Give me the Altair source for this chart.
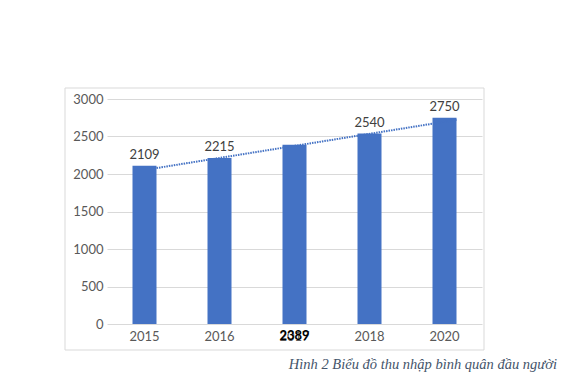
import altair as alt
import pandas as pd

years = ["2015", "2016", "2017", "2018", "2020"]
values = [2109, 2215, 2389, 2540, 2750]
index = [1, 2, 3, 4, 5]
label_at_axis = [False, False, True, False, False]
y_ticks = [0, 500, 1000, 1500, 2000, 2500, 3000]
caption = "Hình 2 Biểu đồ thu nhập bình quân đầu người"

df = pd.DataFrame({"year": years, "value": values, "i": index, "at_axis": label_at_axis})

FONT = "Lato"
BLUE = "#4472C4"

xscale = alt.Scale(domain=years, paddingInner=0.68, paddingOuter=0.34)
yscale = alt.Scale(domain=[0, 3000])
y_axis = alt.Axis(title=None, values=y_ticks, ticks=False, domain=False,
                  format="d", labelOverlap=False,
                  gridColor="#d9d9d9", labelFont=FONT, labelFontSize=13,
                  labelColor="#595959", labelPadding=4)

base = alt.Chart(df)

bars = base.mark_bar(color=BLUE).encode(
    x=alt.X("year:N", scale=xscale, sort=None,
            axis=alt.Axis(title=None, labelAngle=0, ticks=False, domain=False,
                          labelFont=FONT, labelFontSize=13, labelColor="#595959",
                          labelPadding=6)),
    y=alt.Y("value:Q", scale=yscale, axis=y_axis),
)

labels = base.transform_filter("!datum.at_axis").mark_text(
    font=FONT, fontSize=13, color="#404040", baseline="bottom", dy=-4
).encode(
    x=alt.X("year:N", scale=xscale, sort=None, axis=None),
    y=alt.Y("value:Q", scale=yscale, axis=y_axis),
    text="value:Q",
)

axis_label = base.transform_filter("datum.at_axis").mark_text(
    font=FONT, fontSize=13, color="#000000", fontWeight="bold", baseline="middle"
).encode(
    x=alt.X("year:N", scale=xscale, sort=None, axis=None),
    y=alt.value(237),
    text="value:Q",
)

trend = base.transform_regression("i", "value").mark_line(
    color=BLUE, strokeWidth=2, strokeDash=[1.5, 1], xOffset=12
).encode(
    x=alt.X("i:Q", scale=alt.Scale(domain=[0.5, 5.5], nice=False, zero=False), axis=None),
    y=alt.Y("value:Q", scale=yscale, axis=y_axis),
)

frame = alt.Chart(pd.DataFrame({"a": [0]})).mark_rect(
    fill=None, stroke="#d9d9d9", strokeWidth=1
).encode(
    x=alt.value(-42), x2=alt.value(377), y=alt.value(-11), y2=alt.value(251)
)

cap = alt.Chart(pd.DataFrame({"t": [caption]})).mark_text(
    font="Liberation Serif", fontStyle="italic", fontSize=14.5, color="#44546A",
    align="right", baseline="middle"
).encode(
    x=alt.value(450), y=alt.value(266), text="t:N"
)

chart = alt.layer(frame, bars, trend, labels, axis_label, cap).resolve_scale(
    x="independent"
).properties(
    width=375, height=225,
    autosize=alt.AutoSizeParams(type="none"),
    padding={"left": 99, "top": 91, "right": 80, "bottom": 50},
).configure_view(stroke=None)

chart.save("out.html", embed_options={"renderer": "svg", "actions": False})
